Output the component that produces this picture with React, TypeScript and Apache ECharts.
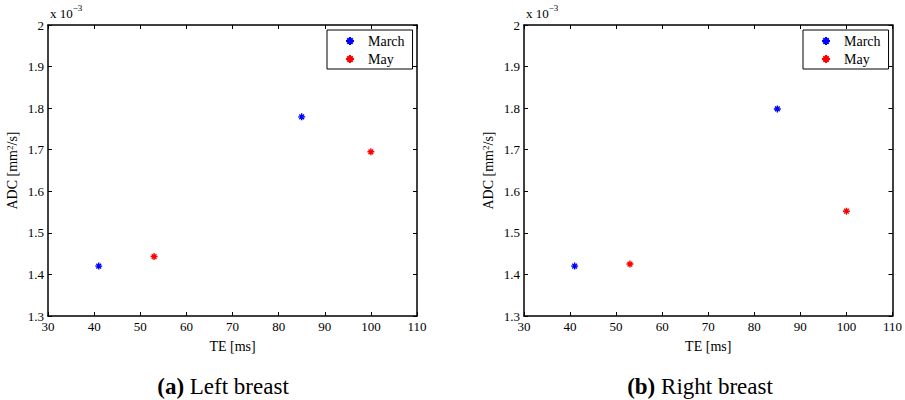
import React, { useEffect, useRef } from "react";
import * as echarts from "echarts";

const xTicks = { min: 30, max: 110, interval: 10 };
const yTicks = { min: 1.3, max: 2.0, interval: 0.1 };

const leftMarchTE = [41, 85];
const leftMarchADC = [1.42, 1.779];
const leftMayTE = [53, 100];
const leftMayADC = [1.443, 1.695];

const rightMarchTE = [41, 85];
const rightMarchADC = [1.42, 1.798];
const rightMayTE = [53, 100];
const rightMayADC = [1.425, 1.552];

const seriesNames = ["March", "May"];
const panelTitles = [
  ["(a)", " Left breast"],
  ["(b)", " Right breast"],
];

const FONT = "Liberation Serif";
const STAR = "path://M5,0L5,10M0,5L10,5M1.6,1.6L8.4,8.4M1.6,8.4L8.4,1.6";

const zip = (a: number[], b: number[]) => a.map((v, i) => [v, b[i]]);

export default function App() {
  const ref = useRef<HTMLDivElement>(null);
  useEffect(() => {
    const chart = echarts.init(ref.current!, null, { renderer: "svg" });
    const grids = [
      { left: 48, top: 25, width: 369, height: 291 },
      { left: 524, top: 25, width: 369, height: 291 },
    ];
    const axisLine = { show: true, onZero: false, lineStyle: { color: "#000", width: 1.5 } };
    const tickIn = { show: true, inside: true, length: 4, lineStyle: { color: "#000", width: 1 } };
    const xAxes: any[] = [];
    const yAxes: any[] = [];
    grids.forEach((_, g) => {
      xAxes.push({
        type: "value", gridIndex: g, position: "bottom", ...xTicks,
        axisLine, axisTick: tickIn, splitLine: { show: false },
        axisLabel: { color: "#000", fontFamily: FONT, fontSize: 13, margin: 4 },
        name: "TE [ms]", nameLocation: "middle", nameGap: 23,
        nameTextStyle: { color: "#000", fontFamily: FONT, fontSize: 14 },
      });
      xAxes.push({
        type: "value", gridIndex: g, position: "top", ...xTicks,
        axisLine, axisTick: tickIn, splitLine: { show: false }, axisLabel: { show: false },
      });
      yAxes.push({
        type: "value", gridIndex: g, position: "left", ...yTicks,
        axisLine, axisTick: tickIn, splitLine: { show: false },
        axisLabel: { color: "#000", fontFamily: FONT, fontSize: 13, margin: 4 },
        name: "ADC [mm{s|2}/s]", nameLocation: "middle", nameGap: 28,
        nameTextStyle: {
          color: "#000", fontFamily: FONT, fontSize: 14,
          rich: {
            s: { fontFamily: FONT, fontSize: 9, color: "#000", verticalAlign: "top", padding: [0, 0, 6, 0] },
          },
        },
      });
      yAxes.push({
        type: "value", gridIndex: g, position: "right", ...yTicks,
        axisLine, axisTick: tickIn, splitLine: { show: false }, axisLabel: { show: false },
      });
    });
    const mk = (name: string, color: string, data: number[][], g: number) => ({
      type: "scatter", name, xAxisIndex: g * 2, yAxisIndex: g * 2, data,
      symbol: STAR, symbolSize: 7,
      itemStyle: { color, borderColor: color, borderWidth: 1.4, opacity: 1 },
    });
    const legend = (left: number) => ({
      left, top: 30, orient: "vertical",
      data: seriesNames,
      backgroundColor: "#fff", borderColor: "#000", borderWidth: 1, borderRadius: 0,
      padding: [4, 8, 3, 18], itemGap: 4, itemWidth: 26, itemHeight: 8,
      selectedMode: false,
      textStyle: { color: "#000", fontFamily: FONT, fontSize: 14 },
    });
    const titleText = (t: string[], cx: number) => ({
      type: "text", x: cx, y: 386,
      style: {
        text: `{b|${t[0]}}{n|${t[1]}}`, align: "center", verticalAlign: "middle",
        rich: {
          b: { fontFamily: FONT, fontSize: 23, fontWeight: "bold", fill: "#000" },
          n: { fontFamily: FONT, fontSize: 23, fill: "#000" },
        },
      },
    });
    const expText = (x: number) => ({
      type: "text", x, y: 20,
      style: {
        text: "{a|x 10}{s|−3}", verticalAlign: "bottom",
        rich: {
          a: { fontFamily: FONT, fontSize: 13, fill: "#000", verticalAlign: "bottom" },
          s: { fontFamily: FONT, fontSize: 9, fill: "#000", verticalAlign: "top", padding: [0, 0, 8, 0] },
        },
      },
    });
    chart.setOption({
      animation: false,
      backgroundColor: "#fff",
      grid: grids,
      xAxis: xAxes,
      yAxis: yAxes,
      legend: [legend(327), legend(803)],
      series: [
        mk("March", "#0000ff", zip(leftMarchTE, leftMarchADC), 0),
        mk("May", "#ff0000", zip(leftMayTE, leftMayADC), 0),
        mk("March", "#0000ff", zip(rightMarchTE, rightMarchADC), 1),
        mk("May", "#ff0000", zip(rightMayTE, rightMayADC), 1),
      ],
      graphic: [
        titleText(panelTitles[0], 223),
        titleText(panelTitles[1], 700),
        expText(50),
        expText(526),
      ],
    });
    return () => chart.dispose();
  }, []);
  return <div ref={ref} style={{ width: 905, height: 400, position: "absolute", left: 0, top: 0 }} />;
}
